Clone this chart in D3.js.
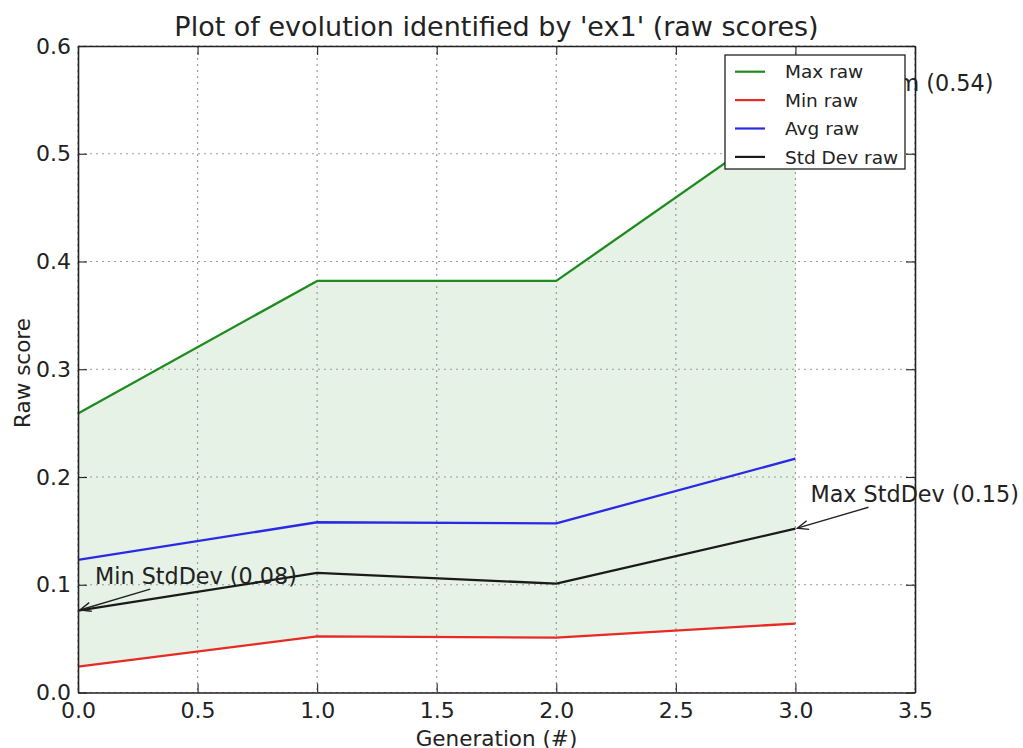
<!DOCTYPE html>
<html>
<head>
<meta charset="utf-8">
<script src="https://cdn.jsdelivr.net/npm/d3@7"></script>
<style>
  body { margin: 0; background: #fff; }
  text { font-family: "DejaVu Sans", sans-serif; fill: #222; }
</style>
</head>
<body>
<svg id="chart" width="1023" height="748"></svg>
<script>
// Per-generation statistics of the raw scores
const generations = [0, 1, 2, 3];
const maxRaw = [0.259, 0.382, 0.382, 0.537];
const minRaw = [0.024, 0.052, 0.051, 0.064];
const avgRaw = [0.123, 0.158, 0.157, 0.217];
const stdRaw = [0.076, 0.111, 0.101, 0.152];

const seriesNames = ["Max raw", "Min raw", "Avg raw", "Std Dev raw"];
const seriesColors = ["#1f8a1f", "#e82a24", "#2a2ae6", "#1a1a1a"];

const xTicks = [0, 0.5, 1, 1.5, 2, 2.5, 3, 3.5];
const yTicks = [0, 0.1, 0.2, 0.3, 0.4, 0.5, 0.6];

const titleText = "Plot of evolution identified by 'ex1' (raw scores)";
const xLabel = "Generation (#)";
const yLabel = "Raw score";

const svg = d3.select("#chart");
const plot = { left: 78, right: 915, top: 46, bottom: 692.5 };

const x = d3.scaleLinear().domain([0, 3.5]).range([plot.left, plot.right]);
const y = d3.scaleLinear().domain([0, 0.6]).range([plot.bottom, plot.top]);

// band between min and max
const area = d3.area()
  .x((d, i) => x(generations[i]))
  .y0((d, i) => y(minRaw[i]))
  .y1((d, i) => y(maxRaw[i]));
svg.append("path").datum(maxRaw).attr("d", area)
  .attr("fill", "rgb(0,128,0)").attr("fill-opacity", 0.1);

// dotted grid
const grid = svg.append("g").attr("stroke", "#9a9a9a").attr("stroke-width", 1.2)
  .attr("stroke-dasharray", "2,4");
grid.selectAll("line.v").data(xTicks).join("line").attr("class", "v")
  .attr("x1", d => x(d)).attr("x2", d => x(d)).attr("y1", plot.top).attr("y2", plot.bottom);
grid.selectAll("line.h").data(yTicks).join("line").attr("class", "h")
  .attr("y1", d => y(d)).attr("y2", d => y(d)).attr("x1", plot.left).attr("x2", plot.right);

// series lines
const series = [maxRaw, minRaw, avgRaw, stdRaw];
const line = d3.line().x((d, i) => x(generations[i])).y(d => y(d));
series.forEach((s, k) => {
  svg.append("path").datum(s).attr("d", line)
    .attr("fill", "none").attr("stroke", seriesColors[k]).attr("stroke-width", 2.3)
    .attr("stroke-linejoin", "round");
});

// axes with inward ticks on all four sides
const fmt = d3.format(".1f");
function styleAxis(g) {
  g.select(".domain").attr("stroke", "#222").attr("stroke-width", 1.6);
  g.selectAll(".tick line").attr("stroke", "#222").attr("stroke-width", 1.1);
  g.selectAll(".tick text").style("font-size", "22px").attr("fill", "#222");
}
svg.append("g").attr("transform", `translate(0,${plot.bottom})`)
  .call(d3.axisBottom(x).tickValues(xTicks).tickFormat(fmt).tickSizeInner(-9).tickSizeOuter(0).tickPadding(10))
  .call(styleAxis);
svg.append("g").attr("transform", `translate(0,${plot.top})`)
  .call(d3.axisTop(x).tickValues(xTicks).tickFormat("").tickSizeInner(-9).tickSizeOuter(0))
  .call(styleAxis);
svg.append("g").attr("transform", `translate(${plot.left},0)`)
  .call(d3.axisLeft(y).tickValues(yTicks).tickFormat(fmt).tickSizeInner(-9).tickSizeOuter(0).tickPadding(7))
  .call(styleAxis);
svg.append("g").attr("transform", `translate(${plot.right},0)`)
  .call(d3.axisRight(y).tickValues(yTicks).tickFormat("").tickSizeInner(-9).tickSizeOuter(0))
  .call(styleAxis);
svg.selectAll(".tick text").attr("font-family", "DejaVu Sans");

// title and axis labels
svg.append("text").attr("x", (plot.left + plot.right) / 2).attr("y", 36)
  .attr("text-anchor", "middle").style("font-size", "27px").text(titleText);
svg.append("text").attr("x", (plot.left + plot.right) / 2).attr("y", 746)
  .attr("text-anchor", "middle").style("font-size", "21.5px").text(xLabel);
svg.append("text").attr("transform", "translate(30,373) rotate(-90)")
  .attr("text-anchor", "middle").style("font-size", "21.5px").text(yLabel);

// annotations with arrows pointing at extreme values
function annotate(label, gx, gy, dx, dy) {
  const px = x(gx), py = y(gy);
  const t = svg.append("text").attr("x", px + dx).attr("y", py + dy)
    .style("font-size", "22.3px").text(label);
  const b = t.node().getBBox();
  const cx = b.x + b.width / 2, cy = b.y + b.height / 2;
  // leave the text box along the line towards the target
  const vx = px - cx, vy = py - cy;
  const tx = Math.abs(vx) > 0 ? (b.width / 2) / Math.abs(vx) : Infinity;
  const ty = Math.abs(vy) > 0 ? (b.height / 2) / Math.abs(vy) : Infinity;
  const tEdge = Math.min(tx, ty);
  const sx = cx + vx * tEdge, sy = cy + vy * tEdge;
  const len = Math.hypot(px - sx, py - sy);
  const ux = (px - sx) / len, uy = (py - sy) / len;
  const ex = px - ux * 2, ey = py - uy * 2;
  const g = svg.append("g").attr("stroke", "#222").attr("stroke-width", 1.4).attr("fill", "none");
  g.append("line").attr("x1", sx + ux * 2).attr("y1", sy + uy * 2).attr("x2", ex).attr("y2", ey);
  const hl = 11, hw = 4.5;
  const bx = ex - ux * hl, by = ey - uy * hl;
  g.append("path").attr("d",
    `M${bx - uy * hw},${by + ux * hw}L${ex},${ey}L${bx + uy * hw},${by - ux * hw}`);
}
const iMax = maxRaw.indexOf(d3.max(maxRaw));
const iStdMin = stdRaw.indexOf(d3.min(stdRaw));
const iStdMax = stdRaw.indexOf(d3.max(stdRaw));
annotate(`Maximum (${d3.max(maxRaw).toFixed(2)})`, generations[iMax], maxRaw[iMax], 14, -23);
annotate(`Min StdDev (${d3.min(stdRaw).toFixed(2)})`, generations[iStdMin], stdRaw[iStdMin], 17, -27);
annotate(`Max StdDev (${d3.max(stdRaw).toFixed(2)})`, generations[iStdMax], stdRaw[iStdMax], 15, -27);

// legend box
const legend = svg.append("g").attr("transform", "translate(725,55)");
legend.append("rect").attr("width", 180).attr("height", 114)
  .attr("fill", "#fff").attr("stroke", "#222").attr("stroke-width", 1.3);
seriesNames.forEach((name, k) => {
  const ry = 16.7 + k * 28.4;
  legend.append("line").attr("x1", 10).attr("x2", 40).attr("y1", ry).attr("y2", ry)
    .attr("stroke", seriesColors[k]).attr("stroke-width", 2.2);
  legend.append("text").attr("x", 60).attr("y", ry).attr("dy", "0.36em")
    .style("font-size", "18.5px").text(name);
});
</script>
</body>
</html>
